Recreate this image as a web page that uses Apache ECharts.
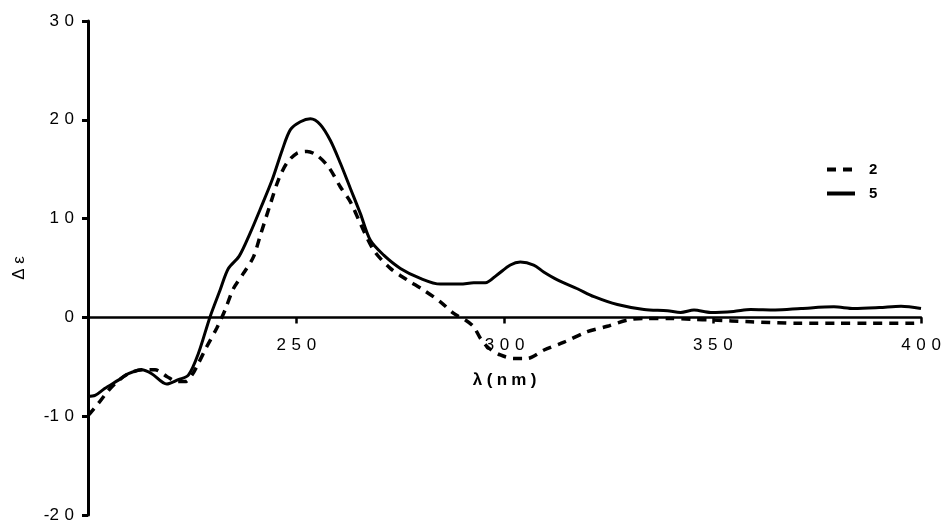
<!DOCTYPE html>
<html>
<head>
<meta charset="utf-8">
<script src="https://cdn.jsdelivr.net/npm/echarts@6/dist/echarts.min.js"></script>
<style>
html,body{margin:0;padding:0;background:#fff;}
#chart{width:942px;height:527px;}
</style>
</head>
<body>
<div id="chart"></div>
<script>
// ---- data ----
var seriesNames = ['2', '5'];

var wl2 = [200, 200.5, 202.5, 204.9, 207.3, 209.7, 212.9, 216.1, 219, 221.5, 223.3, 225, 226.5, 228.5, 230.9, 232.9, 234.9, 237.3, 239.7, 241.3, 243.8, 245.7, 247.7, 250.1, 252.6, 255.0, 257.8, 260.6, 263.0, 265.4, 268.6, 272.6, 276.6, 280.6, 284.6, 287.8, 290.6, 292.6, 294.2, 296.2, 299.0, 302.2, 305.4, 309.5, 314.3, 319.9, 324.7, 329.5, 333.5, 340, 345, 350, 359.1, 371, 380, 387.2, 398.3, 400];
var cd2 = [-9.9, -9.7, -8.7, -7.4, -6.4, -5.7, -5.3, -5.3, -6.0, -6.5, -6.5, -5.8, -4.65, -2.97, -1.1, 0.74, 2.9, 4.45, 6.1, 8.2, 11.5, 13.9, 15.6, 16.6, 16.8, 16.4, 15.2, 13.2, 11.7, 9.5, 6.8, 4.96, 3.8, 2.76, 1.58, 0.4, -0.27, -0.95, -2.1, -3.1, -3.8, -4.15, -4.15, -3.3, -2.5, -1.45, -0.9, -0.27, -0.1, -0.1, -0.2, -0.27, -0.44, -0.6, -0.6, -0.6, -0.6, -0.5];

var wl5 = [200, 201.7, 204, 207.3, 209.7, 212.9, 215.3, 218.9, 221.7, 224.1, 226.5, 229.3, 231.7, 233.7, 236.3, 238.9, 241.3, 244.2, 246.6, 248.6, 251.0, 253.4, 255.8, 258.2, 260.6, 263.0, 265.4, 267.8, 271.0, 275.0, 279.8, 284.6, 289.4, 292.6, 295.4, 298.2, 301.4, 303.8, 307.0, 309.4, 312.7, 317.5, 321.5, 327.1, 333.5, 339.1, 342.3, 345.5, 349.5, 355, 359.1, 365, 371.2, 379.1, 383.9, 390, 395.2, 400];
var cd5 = [-8.0, -7.9, -7.2, -6.35, -5.7, -5.3, -5.7, -6.75, -6.3, -5.85, -3.65, 0.05, 2.75, 4.95, 6.2, 8.5, 10.9, 13.9, 16.9, 19.0, 19.8, 20.1, 19.5, 17.9, 15.6, 13.05, 10.5, 7.8, 6.3, 4.96, 3.95, 3.37, 3.37, 3.5, 3.5, 4.3, 5.3, 5.6, 5.3, 4.6, 3.8, 2.9, 2.1, 1.3, 0.8, 0.67, 0.5, 0.74, 0.5, 0.6, 0.8, 0.75, 0.9, 1.07, 0.9, 1.0, 1.14, 0.9];

var xTicks = [250, 300, 350, 400];
var yTicks = [-20, -10, 0, 10, 20, 30];
var xAxisName = 'λ (\u2005n\u2005m\u2005)';
var yAxisName = 'Δ ε';

// ---- helpers ----
function spaced(v) {
  var s = String(v);
  var out = '';
  for (var i = 0; i < s.length; i++) {
    out += s[i];
    if (i < s.length - 1 && s[i] !== '-') out += '\u2004';
  }
  return out;
}
function pairs(xs, ys) {
  return xs.map(function (x, i) { return [x, ys[i]]; });
}

var FONT = '"Liberation Sans", Arial, sans-serif';
var GRID_TOP = 21, GRID_BOTTOM = 12, H = 527;
var Y_MIN = yTicks[0], Y_MAX = yTicks[yTicks.length - 1];
// shift the x axis (line, ticks, labels, name) up so that it sits on y = 0
var plotH = H - GRID_TOP - GRID_BOTTOM;
var zeroShift = -plotH * (0 - Y_MIN) / (Y_MAX - Y_MIN);

var chart = echarts.init(document.getElementById('chart'), null, {renderer: 'canvas'});
chart.setOption({
  animation: false,
  backgroundColor: '#ffffff',
  grid: {left: 88, right: 21, top: GRID_TOP, bottom: GRID_BOTTOM, containLabel: false, outerBoundsMode: 'none'},
  legend: {
    orient: 'vertical',
    left: 820,
    top: 157,
    itemWidth: 28,
    itemHeight: 14,
    itemGap: 9,
    data: seriesNames,
    itemStyle: {opacity: 0, borderWidth: 0},
    lineStyle: {width: 4},
    textStyle: {fontFamily: FONT, fontSize: 15, fontWeight: 'bold', color: '#000', padding: [0, 0, 0, 9]}
  },
  xAxis: {
    type: 'value',
    min: 200,
    max: 400,
    interval: 50,
    position: 'bottom',
    offset: zeroShift,
    splitLine: {show: false},
    axisLine: {onZero: false, lineStyle: {color: '#000', width: 2.5}},
    axisTick: {show: true, customValues: xTicks, length: 6, lineStyle: {color: '#000', width: 2.5}},
    axisLabel: {
      customValues: xTicks,
      margin: 19,
      fontFamily: FONT, fontSize: 17, color: '#000',
      formatter: function (v) { return spaced(v); }
    },
    name: xAxisName,
    nameLocation: 'middle',
    nameGap: 54,
    nameTextStyle: {fontFamily: FONT, fontSize: 17, fontWeight: 'bold', color: '#000'}
  },
  yAxis: {
    type: 'value',
    min: Y_MIN,
    max: Y_MAX,
    interval: 10,
    splitLine: {show: false},
    axisLine: {show: true, onZero: false, lineStyle: {color: '#000', width: 3}},
    axisTick: {show: true, customValues: yTicks, length: 6, lineStyle: {color: '#000', width: 3}},
    axisLabel: {
      customValues: yTicks,
      margin: 14,
      fontFamily: FONT, fontSize: 17, color: '#000',
      formatter: function (v) { return spaced(v); }
    },
    name: yAxisName,
    nameLocation: 'middle',
    nameGap: 60,
    nameRotate: 90,
    nameTextStyle: {fontFamily: FONT, fontSize: 17, color: '#000'}
  },
  series: [
    {
      name: seriesNames[0],
      type: 'line',
      data: pairs(wl2, cd2),
      symbol: 'none',
      smooth: 0.3,
      z: 3,
      lineStyle: {color: '#000', width: 3.5, type: [9, 7], cap: 'butt'},
      itemStyle: {color: '#000'}
    },
    {
      name: seriesNames[1],
      type: 'line',
      data: pairs(wl5, cd5),
      symbol: 'none',
      smooth: 0.3,
      z: 4,
      lineStyle: {color: '#000', width: 3},
      itemStyle: {color: '#000'}
    }
  ]
});
</script>
</body>
</html>
